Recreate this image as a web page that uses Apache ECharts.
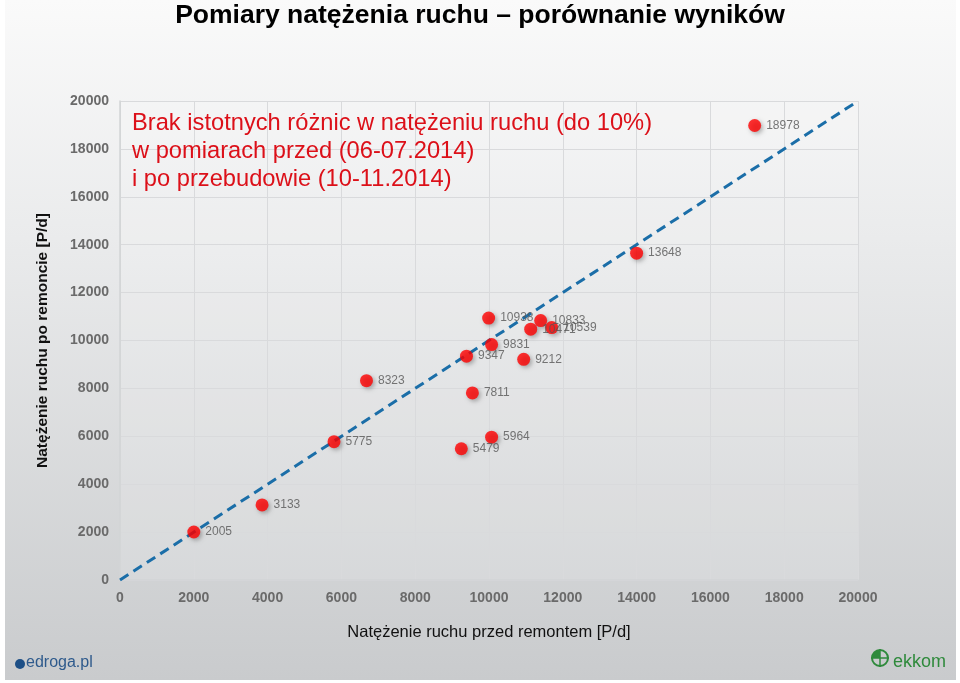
<!DOCTYPE html>
<html>
<head>
<meta charset="utf-8">
<script src="https://cdn.jsdelivr.net/npm/echarts@6/dist/echarts.min.js"></script>
<style>html,body{margin:0;padding:0;background:#fff}#c{width:960px;height:683px}</style>
</head>
<body>
<div id="c"></div>
<script>
// Measured traffic: before (x) and after (y), vehicles per day
const before = [2000, 3850, 5800, 6680, 9250, 10070, 9550, 9390, 10070, 9990, 10940, 11130, 11400, 11700, 14000, 17200];
const after  = [2005, 3133, 5775, 8323, 5479, 5964, 7811, 9347, 9831, 10938, 9212, 10471, 10833, 10539, 13648, 18978];
const refLine = [[0, 0], [20000, 20000]];
const titleText = 'Pomiary natężenia ruchu – porównanie wyników';
const noteLines = ['Brak istotnych różnic w natężeniu ruchu (do 10%)', 'w pomiarach przed (06-07.2014)', 'i po przebudowie (10-11.2014)'];
const xName = 'Natężenie ruchu przed remontem [P/d]';
const yName = 'Natężenie ruchu po remoncie [P/d]';

const points = before.map((x, i) => [x, after[i]]);
const chart = echarts.init(document.getElementById('c'));
chart.setOption({
  backgroundColor: '#ffffff',
  animation: false,
  graphic: [
    { type: 'rect', z: -10, shape: { x: 5, y: 0, width: 951, height: 680 },
      style: { fill: new echarts.graphic.LinearGradient(0, 0, 0, 1, [
        { offset: 0, color: '#fafafa' }, { offset: 0.35, color: '#eaebec' }, { offset: 1, color: '#c9cbcd' }]) } },
    { type: 'text', left: 132, top: 109, z: 10,
      style: { text: noteLines.join('\n'), fill: '#dc1019', font: '23.7px "Liberation Sans", Arial, sans-serif', lineHeight: 28 } },
    { type: 'text', left: 26, top: 655, style: { text: 'edroga.pl', fill: '#2e5a8c', font: '16px "Liberation Sans", Arial, sans-serif' } },
    { type: 'circle', shape: { cx: 20, cy: 664, r: 5 }, style: { fill: '#1d4f86' } },
    { type: 'text', left: 893, top: 653, style: { text: 'ekkom', fill: '#2f8a3c', font: '18px "Liberation Sans", Arial, sans-serif' } },
    { type: 'sector', shape: { cx: 880, cy: 658, r0: 0, r: 9, startAngle: Math.PI, endAngle: Math.PI * 1.5 }, style: { fill: '#2f8a3c' } },
    { type: 'sector', shape: { cx: 880, cy: 658, r0: 7, r: 9, startAngle: Math.PI * 1.5, endAngle: Math.PI * 2.5 }, style: { fill: '#2f8a3c' } },
    { type: 'sector', shape: { cx: 880, cy: 658, r0: 7, r: 9, startAngle: Math.PI * 0.5, endAngle: Math.PI }, style: { fill: '#2f8a3c' } },
    { type: 'line', shape: { x1: 871, y1: 658, x2: 889, y2: 658 }, style: { stroke: '#2f8a3c', lineWidth: 1.5 } },
    { type: 'line', shape: { x1: 880, y1: 649, x2: 880, y2: 667 }, style: { stroke: '#2f8a3c', lineWidth: 1.5 } }
  ],
  title: {
    text: titleText, left: 'center', top: -3,
    textStyle: { fontFamily: '"Liberation Sans Narrow", "Liberation Sans", Arial, sans-serif', fontWeight: 'bold', fontSize: 26.5, color: '#000' }
  },
  grid: { left: 120, right: 102, top: 101, bottom: 103, show: true, backgroundColor: 'rgba(255,255,255,0.15)', borderWidth: 0 },
  xAxis: {
    type: 'value', min: 0, max: 20000, interval: 2000,
    name: xName, nameLocation: 'middle', nameGap: 44,
    nameTextStyle: { fontFamily: '"Liberation Sans", Arial, sans-serif', fontSize: 16.5, color: '#111' },
    axisLine: { show: true, lineStyle: { color: '#d2d4d6', width: 1.5 } },
    axisTick: { show: false },
    axisLabel: { margin: 11, formatter: v => String(v), fontFamily: '"Liberation Sans", Arial, sans-serif', fontWeight: 'bold', fontSize: 14, color: '#6a6a6a' },
    splitLine: { show: true, lineStyle: { color: '#d9dadc', width: 1 } }
  },
  yAxis: {
    type: 'value', min: 0, max: 20000, interval: 2000,
    name: yName, nameLocation: 'middle', nameGap: 69, nameRotate: 90,
    nameTextStyle: { fontFamily: '"Liberation Sans", Arial, sans-serif', fontWeight: 'bold', fontSize: 15.5, color: '#111' },
    axisLine: { show: true, lineStyle: { color: '#d2d4d6', width: 1.5 } },
    axisTick: { show: false },
    axisLabel: { margin: 11, formatter: v => String(v), fontFamily: '"Liberation Sans", Arial, sans-serif', fontWeight: 'bold', fontSize: 14, color: '#6a6a6a' },
    splitLine: { show: true, lineStyle: { color: '#d9dadc', width: 1 } }
  },
  series: [
    {
      type: 'line', data: refLine, symbol: 'none', z: 2,
      lineStyle: { color: '#1b6ea8', width: 3, type: [10, 6] }
    },
    {
      type: 'scatter', data: points, symbol: 'circle', symbolSize: 13, z: 3,
      itemStyle: { color: '#ff0000', shadowBlur: 4, shadowColor: 'rgba(0,0,0,0.35)', shadowOffsetX: 2, shadowOffsetY: 2 },
      label: {
        show: true, position: 'right', distance: 5,
        formatter: p => String(p.value[1]),
        fontFamily: '"Liberation Sans", Arial, sans-serif', fontSize: 12, color: '#555'
      }
    }
  ]
});
</script>
</body>
</html>
